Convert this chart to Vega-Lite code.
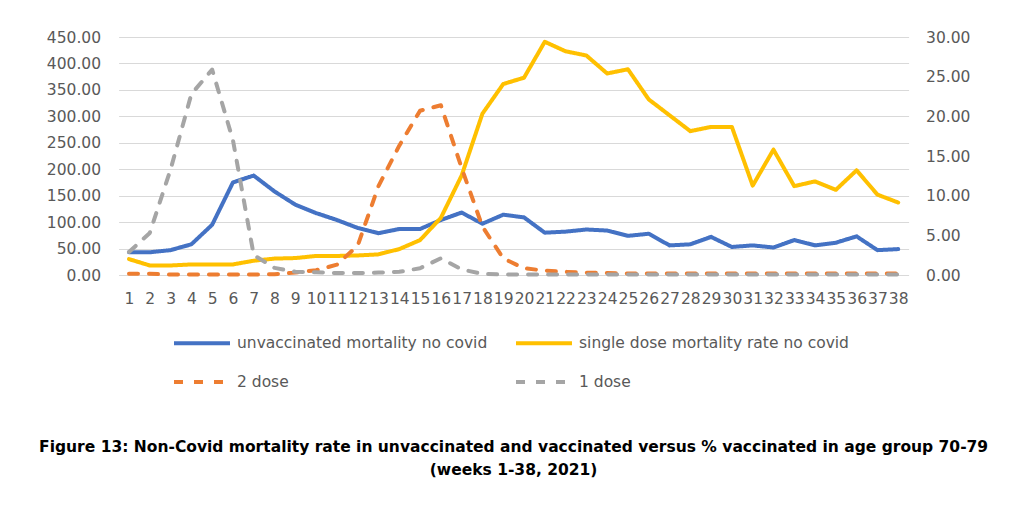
{
  "$schema": "https://vega.github.io/schema/vega-lite/v6.json",
  "autosize": "none",
  "width": 790,
  "height": 238,
  "padding": {"left": 118.6, "top": 37, "right": 115.4, "bottom": 230},
  "background": "white",
  "config": {
    "view": {"stroke": null},
    "font": "DejaVu Sans",
    "legend": {
      "orient": "none",
      "direction": "horizontal",
      "legendX": 53.4,
      "legendY": 276,
      "columns": 2,
      "columnPadding": 20,
      "rowPadding": -19,
      "symbolType": "stroke",
      "symbolSize": 3136,
      "symbolStrokeWidth": 4,
      "labelFont": "DejaVu Sans",
      "labelFontSize": 15.5,
      "labelColor": "#595959",
      "labelLimit": 400,
      "labelOffset": 5,
      "title": null
    }
  },
  "title": {
    "text": ["Figure 13: Non-Covid mortality rate in unvaccinated and vaccinated versus % vaccinated in age group 70-79", "(weeks 1-38, 2021)"],
    "orient": "bottom",
    "anchor": "middle",
    "font": "DejaVu Sans",
    "fontSize": 15.5,
    "fontWeight": "bold",
    "color": "#000000",
    "lineHeight": 23,
    "offset": 49
  },
  "data": {"values": [
    {"week":1,"series":"unvaccinated mortality no covid","value":43},
    {"week":2,"series":"unvaccinated mortality no covid","value":43},
    {"week":3,"series":"unvaccinated mortality no covid","value":47},
    {"week":4,"series":"unvaccinated mortality no covid","value":58},
    {"week":5,"series":"unvaccinated mortality no covid","value":95},
    {"week":6,"series":"unvaccinated mortality no covid","value":175},
    {"week":7,"series":"unvaccinated mortality no covid","value":188},
    {"week":8,"series":"unvaccinated mortality no covid","value":158},
    {"week":9,"series":"unvaccinated mortality no covid","value":133},
    {"week":10,"series":"unvaccinated mortality no covid","value":117},
    {"week":11,"series":"unvaccinated mortality no covid","value":104},
    {"week":12,"series":"unvaccinated mortality no covid","value":89},
    {"week":13,"series":"unvaccinated mortality no covid","value":79},
    {"week":14,"series":"unvaccinated mortality no covid","value":87},
    {"week":15,"series":"unvaccinated mortality no covid","value":87},
    {"week":16,"series":"unvaccinated mortality no covid","value":104},
    {"week":17,"series":"unvaccinated mortality no covid","value":118},
    {"week":18,"series":"unvaccinated mortality no covid","value":97},
    {"week":19,"series":"unvaccinated mortality no covid","value":114},
    {"week":20,"series":"unvaccinated mortality no covid","value":109},
    {"week":21,"series":"unvaccinated mortality no covid","value":80},
    {"week":22,"series":"unvaccinated mortality no covid","value":82},
    {"week":23,"series":"unvaccinated mortality no covid","value":86},
    {"week":24,"series":"unvaccinated mortality no covid","value":84},
    {"week":25,"series":"unvaccinated mortality no covid","value":74},
    {"week":26,"series":"unvaccinated mortality no covid","value":78},
    {"week":27,"series":"unvaccinated mortality no covid","value":56},
    {"week":28,"series":"unvaccinated mortality no covid","value":58},
    {"week":29,"series":"unvaccinated mortality no covid","value":72},
    {"week":30,"series":"unvaccinated mortality no covid","value":53},
    {"week":31,"series":"unvaccinated mortality no covid","value":56},
    {"week":32,"series":"unvaccinated mortality no covid","value":52},
    {"week":33,"series":"unvaccinated mortality no covid","value":66},
    {"week":34,"series":"unvaccinated mortality no covid","value":56},
    {"week":35,"series":"unvaccinated mortality no covid","value":61},
    {"week":36,"series":"unvaccinated mortality no covid","value":73},
    {"week":37,"series":"unvaccinated mortality no covid","value":47},
    {"week":38,"series":"unvaccinated mortality no covid","value":49},
    {"week":1,"series":"single dose mortality rate no covid","value":30},
    {"week":2,"series":"single dose mortality rate no covid","value":18},
    {"week":3,"series":"single dose mortality rate no covid","value":18},
    {"week":4,"series":"single dose mortality rate no covid","value":20},
    {"week":5,"series":"single dose mortality rate no covid","value":20},
    {"week":6,"series":"single dose mortality rate no covid","value":20},
    {"week":7,"series":"single dose mortality rate no covid","value":27},
    {"week":8,"series":"single dose mortality rate no covid","value":31},
    {"week":9,"series":"single dose mortality rate no covid","value":32},
    {"week":10,"series":"single dose mortality rate no covid","value":36},
    {"week":11,"series":"single dose mortality rate no covid","value":36},
    {"week":12,"series":"single dose mortality rate no covid","value":37},
    {"week":13,"series":"single dose mortality rate no covid","value":39},
    {"week":14,"series":"single dose mortality rate no covid","value":49},
    {"week":15,"series":"single dose mortality rate no covid","value":66},
    {"week":16,"series":"single dose mortality rate no covid","value":108},
    {"week":17,"series":"single dose mortality rate no covid","value":188},
    {"week":18,"series":"single dose mortality rate no covid","value":305},
    {"week":19,"series":"single dose mortality rate no covid","value":361},
    {"week":20,"series":"single dose mortality rate no covid","value":373},
    {"week":21,"series":"single dose mortality rate no covid","value":441},
    {"week":22,"series":"single dose mortality rate no covid","value":423},
    {"week":23,"series":"single dose mortality rate no covid","value":415},
    {"week":24,"series":"single dose mortality rate no covid","value":381},
    {"week":25,"series":"single dose mortality rate no covid","value":389},
    {"week":26,"series":"single dose mortality rate no covid","value":332},
    {"week":27,"series":"single dose mortality rate no covid","value":302},
    {"week":28,"series":"single dose mortality rate no covid","value":272},
    {"week":29,"series":"single dose mortality rate no covid","value":280},
    {"week":30,"series":"single dose mortality rate no covid","value":280},
    {"week":31,"series":"single dose mortality rate no covid","value":169},
    {"week":32,"series":"single dose mortality rate no covid","value":237},
    {"week":33,"series":"single dose mortality rate no covid","value":168},
    {"week":34,"series":"single dose mortality rate no covid","value":177},
    {"week":35,"series":"single dose mortality rate no covid","value":161},
    {"week":36,"series":"single dose mortality rate no covid","value":198},
    {"week":37,"series":"single dose mortality rate no covid","value":152},
    {"week":38,"series":"single dose mortality rate no covid","value":137},
    {"week":1,"series":"2 dose","value":0.15},
    {"week":2,"series":"2 dose","value":0.15},
    {"week":3,"series":"2 dose","value":0.05},
    {"week":4,"series":"2 dose","value":0.05},
    {"week":5,"series":"2 dose","value":0.05},
    {"week":6,"series":"2 dose","value":0.05},
    {"week":7,"series":"2 dose","value":0.05},
    {"week":8,"series":"2 dose","value":0.1},
    {"week":9,"series":"2 dose","value":0.3},
    {"week":10,"series":"2 dose","value":0.6},
    {"week":11,"series":"2 dose","value":1.3},
    {"week":12,"series":"2 dose","value":3.7},
    {"week":13,"series":"2 dose","value":11.2},
    {"week":14,"series":"2 dose","value":16.3},
    {"week":15,"series":"2 dose","value":20.7},
    {"week":16,"series":"2 dose","value":21.4},
    {"week":17,"series":"2 dose","value":13.5},
    {"week":18,"series":"2 dose","value":6.1},
    {"week":19,"series":"2 dose","value":2.1},
    {"week":20,"series":"2 dose","value":0.85},
    {"week":21,"series":"2 dose","value":0.55},
    {"week":22,"series":"2 dose","value":0.4},
    {"week":23,"series":"2 dose","value":0.3},
    {"week":24,"series":"2 dose","value":0.25},
    {"week":25,"series":"2 dose","value":0.2},
    {"week":26,"series":"2 dose","value":0.2},
    {"week":27,"series":"2 dose","value":0.2},
    {"week":28,"series":"2 dose","value":0.2},
    {"week":29,"series":"2 dose","value":0.2},
    {"week":30,"series":"2 dose","value":0.2},
    {"week":31,"series":"2 dose","value":0.2},
    {"week":32,"series":"2 dose","value":0.2},
    {"week":33,"series":"2 dose","value":0.2},
    {"week":34,"series":"2 dose","value":0.2},
    {"week":35,"series":"2 dose","value":0.2},
    {"week":36,"series":"2 dose","value":0.2},
    {"week":37,"series":"2 dose","value":0.2},
    {"week":38,"series":"2 dose","value":0.2},
    {"week":1,"series":"1 dose","value":2.9},
    {"week":2,"series":"1 dose","value":5.3},
    {"week":3,"series":"1 dose","value":13.3},
    {"week":4,"series":"1 dose","value":22.8},
    {"week":5,"series":"1 dose","value":25.9},
    {"week":6,"series":"1 dose","value":17},
    {"week":7,"series":"1 dose","value":2.5},
    {"week":8,"series":"1 dose","value":0.9},
    {"week":9,"series":"1 dose","value":0.4},
    {"week":10,"series":"1 dose","value":0.35},
    {"week":11,"series":"1 dose","value":0.25},
    {"week":12,"series":"1 dose","value":0.25},
    {"week":13,"series":"1 dose","value":0.3},
    {"week":14,"series":"1 dose","value":0.4},
    {"week":15,"series":"1 dose","value":0.85},
    {"week":16,"series":"1 dose","value":2.1},
    {"week":17,"series":"1 dose","value":0.7},
    {"week":18,"series":"1 dose","value":0.15},
    {"week":19,"series":"1 dose","value":0.05},
    {"week":20,"series":"1 dose","value":0.05},
    {"week":21,"series":"1 dose","value":0.05},
    {"week":22,"series":"1 dose","value":0.05},
    {"week":23,"series":"1 dose","value":0.05},
    {"week":24,"series":"1 dose","value":0.05},
    {"week":25,"series":"1 dose","value":0.05},
    {"week":26,"series":"1 dose","value":0.05},
    {"week":27,"series":"1 dose","value":0.05},
    {"week":28,"series":"1 dose","value":0.05},
    {"week":29,"series":"1 dose","value":0.05},
    {"week":30,"series":"1 dose","value":0.05},
    {"week":31,"series":"1 dose","value":0.05},
    {"week":32,"series":"1 dose","value":0.05},
    {"week":33,"series":"1 dose","value":0.05},
    {"week":34,"series":"1 dose","value":0.05},
    {"week":35,"series":"1 dose","value":0.05},
    {"week":36,"series":"1 dose","value":0.05},
    {"week":37,"series":"1 dose","value":0.05},
    {"week":38,"series":"1 dose","value":0.05}
  ]},
  "encoding": {
    "x": {
      "field": "week",
      "type": "ordinal",
      "scale": {"type": "point", "padding": 0.5},
      "axis": {
        "title": null,
        "labelAngle": 0,
        "ticks": false,
        "domain": false,
        "grid": false,
        "labelOverlap": false,
        "labelBound": false,
        "labelPadding": 16,
        "labelFont": "DejaVu Sans",
        "labelFontSize": 15.5,
        "labelColor": "#595959"
      }
    },
    "color": {
      "field": "series",
      "type": "nominal",
      "scale": {
        "domain": ["unvaccinated mortality no covid", "single dose mortality rate no covid", "2 dose", "1 dose"],
        "range": ["#4472C4", "#FFC000", "#ED7D31", "#A5A5A5"]
      }
    },
    "strokeDash": {
      "field": "series",
      "type": "nominal",
      "scale": {
        "domain": ["unvaccinated mortality no covid", "single dose mortality rate no covid", "2 dose", "1 dose"],
        "range": [[1, 0], [1, 0], [9, 11], [9, 11]]
      }
    }
  },
  "layer": [
    {
      "transform": [{"filter": {"field": "series", "oneOf": ["unvaccinated mortality no covid", "single dose mortality rate no covid"]}}],
      "mark": {"type": "line", "strokeWidth": 4, "strokeCap": "round", "strokeJoin": "round"},
      "encoding": {
        "y": {
          "field": "value",
          "type": "quantitative",
          "scale": {"domain": [0, 450], "nice": false},
          "axis": {
            "orient": "left",
            "title": null,
            "values": [0, 50, 100, 150, 200, 250, 300, 350, 400, 450],
            "format": ".2f",
            "grid": true,
            "gridColor": "#D9D9D9",
            "gridWidth": 1,
            "domain": false,
            "ticks": false,
            "labelPadding": 18,
            "labelFont": "DejaVu Sans",
            "labelFontSize": 15.5,
            "labelColor": "#595959"
          }
        }
      }
    },
    {
      "transform": [{"filter": {"field": "series", "oneOf": ["2 dose", "1 dose"]}}],
      "mark": {"type": "line", "strokeWidth": 4, "strokeCap": "round", "strokeJoin": "round"},
      "encoding": {
        "y": {
          "field": "value",
          "type": "quantitative",
          "scale": {"domain": [0, 30], "nice": false},
          "axis": {
            "orient": "right",
            "title": null,
            "values": [0, 5, 10, 15, 20, 25, 30],
            "format": ".2f",
            "grid": false,
            "domain": false,
            "ticks": false,
            "labelPadding": 17,
            "labelFont": "DejaVu Sans",
            "labelFontSize": 15.5,
            "labelColor": "#595959"
          }
        }
      }
    }
  ],
  "resolve": {"scale": {"y": "independent"}}
}
